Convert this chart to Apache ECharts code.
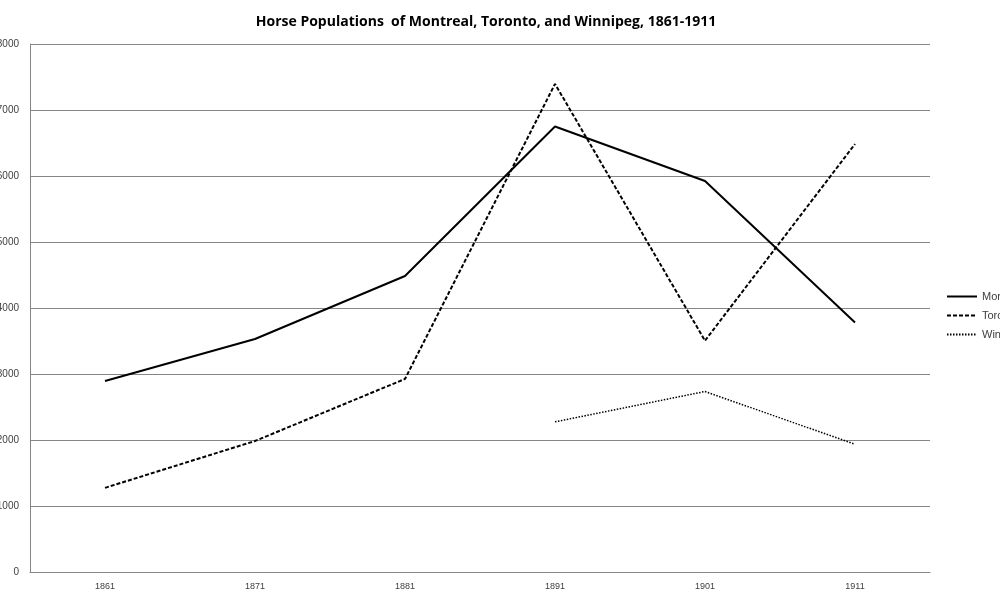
<!DOCTYPE html>
<html><head><meta charset="utf-8">
<script src="https://cdn.jsdelivr.net/npm/echarts@6/dist/echarts.min.js"></script>
<style>html,body{margin:0;padding:0;background:#fff}#c{width:1000px;height:600px}</style>
</head><body><div id="c"></div>
<script>
const years = ['1861','1871','1881','1891','1901','1911'];
const montreal = [2895, 3530, 4485, 6750, 5925, 3780];
const toronto = [1275, 1985, 2925, 7395, 3505, 6485];
const winnipeg = [null, null, null, 2275, 2735, 1935];
const yTicks = {min: 0, max: 8000, interval: 1000};

const chart = echarts.init(document.getElementById('c'));
chart.setOption({
  animation: false,
  backgroundColor: '#fff',
  title: {
    text: 'Horse Populations  of Montreal, Toronto, and Winnipeg, 1861-1911',
    left: 481, textAlign: 'center', top: 10,
    textStyle: {fontFamily: 'Open Sans', fontWeight: 'bold', fontSize: 14, color: '#000'}
  },
  legend: {
    orient: 'vertical', left: 941, top: 286, itemGap: 8,
    itemWidth: 30, itemHeight: 12,
    itemStyle: {opacity: 0},
    textStyle: {fontFamily: 'Liberation Sans', fontSize: 11, color: '#404040'},
    data: ['Montreal', 'Toronto', 'Winnipeg']
  },
  grid: {left: 30, right: 70, top: 44, bottom: 28, containLabel: false, outerBoundsMode: 'none'},
  xAxis: {
    type: 'category', data: years, boundaryGap: true,
    axisLine: {lineStyle: {color: '#868686', width: 1}},
    axisTick: {show: false},
    axisLabel: {fontFamily: 'Liberation Sans', fontSize: 9, color: '#404040', margin: 10}
  },
  yAxis: {
    type: 'value', min: yTicks.min, max: yTicks.max, interval: yTicks.interval,
    axisLine: {show: true, lineStyle: {color: '#868686', width: 1}},
    axisTick: {show: false},
    axisLabel: {fontFamily: 'Liberation Sans', fontSize: 10, color: '#404040', margin: 11,
      formatter: v => String(v)},
    splitLine: {lineStyle: {color: '#868686', width: 1}}
  },
  series: [
    {name: 'Montreal', type: 'line', data: montreal, symbol: 'none',
     lineStyle: {color: '#000', width: 2, type: 'solid'}, itemStyle: {color: '#000'}},
    {name: 'Toronto', type: 'line', data: toronto, symbol: 'none',
     lineStyle: {color: '#000', width: 2, type: [4, 2]}, itemStyle: {color: '#000'}},
    {name: 'Winnipeg', type: 'line', data: winnipeg, symbol: 'none', connectNulls: false,
     lineStyle: {color: '#000', width: 1.5, type: [1.5, 1.5]}, itemStyle: {color: '#000'}}
  ]
});
</script></body></html>
